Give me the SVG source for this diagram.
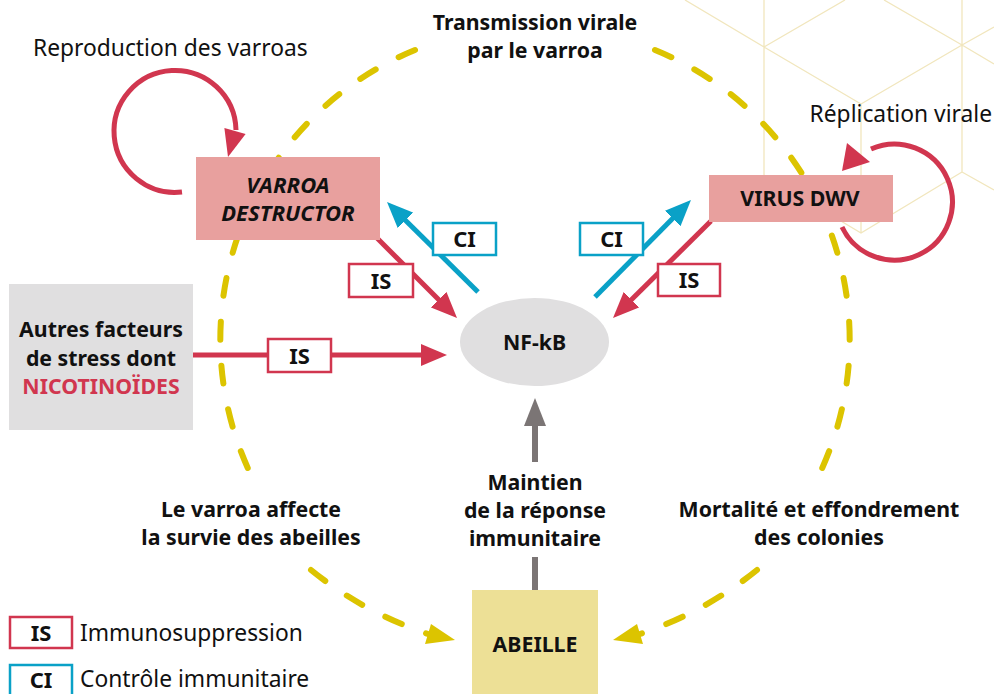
<svg xmlns="http://www.w3.org/2000/svg" width="994" height="694" viewBox="0 0 994 694">
<defs>
<style>
text { font-family: "Noto Sans", "Open Sans", "DejaVu Sans", sans-serif; fill: #111; }
.b { font-weight: 700; font-size: 21.3px; text-anchor: middle; }
.bi { font-weight: 700; font-style: italic; font-size: 22px; text-anchor: middle; }
.r { font-weight: 400; font-size: 22.8px; }
.tag { font-weight: 700; font-size: 22px; text-anchor: middle; }
.hex { stroke: #f1e6bd; stroke-width: 1.3; fill: none; }
.circ { fill: none; stroke: #dcc400; stroke-width: 6; stroke-linecap: round; stroke-dasharray: 18 26; }
.red { stroke: #d1364f; stroke-width: 5; fill: none; }
.blue { stroke: #0aa1c7; stroke-width: 5; fill: none; }
.gray { stroke: #7b7575; stroke-width: 6; fill: none; }
.tagR { fill: #fff; stroke: #d1364f; stroke-width: 2.5; }
.tagB { fill: #fff; stroke: #0aa1c7; stroke-width: 2.5; }
.pink { fill: #e8a09e; }
.grey { fill: #e0dfe0; }
</style>
<marker id="aR" markerUnits="userSpaceOnUse" markerWidth="26" markerHeight="22" viewBox="0 0 26 22" refX="8" refY="11" orient="auto"><path d="M0,0 L26,11 L0,22 z" fill="#d1364f"/></marker>
<marker id="aB" markerUnits="userSpaceOnUse" markerWidth="26" markerHeight="22" viewBox="0 0 26 22" refX="8" refY="11" orient="auto"><path d="M0,0 L26,11 L0,22 z" fill="#0aa1c7"/></marker>
<marker id="aG" markerUnits="userSpaceOnUse" markerWidth="28" markerHeight="22" viewBox="0 0 28 22" refX="10" refY="11" orient="auto"><path d="M0,0 L28,11 L0,22 z" fill="#7b7575"/></marker>
</defs>

<g id="background">
<path class="hex" d="M685,0 L764,47 M764,0 L764,175 M764,47 L845,0 M764,47 L861,104 M962,45 L861,104 M861,104 L861,233 M764,175 L861,233 L962,172 M962,0 L962,172 M962,45 L884,0 M962,45 L994,27 M962,45 L994,64 M962,172 L994,190"/>
</g>

<g id="cycle">
<path class="circ" d="M415,50 A313,313 0 0,0 252,477"/>
<path class="circ" d="M655,50 A313,313 0 0,1 818,477"/>
<path class="circ" d="M311,570 Q363,612 428,634"/>
<path class="circ" d="M757,570 Q705,612 640,634"/>
<polygon points="455,640 431,624 425,644" fill="#dcc400"/>
<polygon points="613,640 637,624 643,644" fill="#dcc400"/>
</g>

<g id="connectors">
<line class="red" x1="377" y1="238" x2="444.3" y2="305.3" marker-end="url(#aR)"/>
<line class="blue" x1="478" y1="292" x2="399.8" y2="214.7" marker-end="url(#aB)"/>
<line class="blue" x1="595" y1="297" x2="678.3" y2="212.8" marker-end="url(#aB)"/>
<line class="red" x1="711" y1="221" x2="625.8" y2="305.3" marker-end="url(#aR)"/>
<line class="red" x1="193" y1="355" x2="429" y2="355" marker-end="url(#aR)"/>
<line class="gray" x1="535" y1="462" x2="535" y2="416" marker-end="url(#aG)"/>
<line class="gray" x1="535" y1="557" x2="535" y2="592"/>
</g>

<g id="tags">
<rect class="tagR" x="349" y="264" width="64" height="33"/><text class="tag" x="381" y="288.5">IS</text>
<rect class="tagB" x="433" y="223" width="63" height="32"/><text class="tag" x="464.5" y="247">CI</text>
<rect class="tagB" x="580" y="223" width="63" height="32"/><text class="tag" x="611.5" y="247">CI</text>
<rect class="tagR" x="658" y="264" width="62" height="32"/><text class="tag" x="689" y="288">IS</text>
<rect class="tagR" x="268" y="339" width="63" height="33"/><text class="tag" x="299.5" y="363.5">IS</text>
</g>

<g id="node-varroa">
<rect class="pink" x="196" y="157" width="184" height="83"/>
<text class="bi" x="288" y="193">VARROA</text>
<text class="bi" x="288" y="221">DESTRUCTOR</text>
</g>

<g id="node-virus">
<rect class="pink" x="709" y="175" width="184" height="47"/>
<text class="b" x="800" y="206">VIRUS DWV</text>
</g>

<g id="node-autres">
<rect class="grey" x="9" y="284" width="184" height="146"/>
<text class="b" x="101" y="337">Autres facteurs</text>
<text class="b" x="101" y="366">de stress dont</text>
<text class="b" x="101" y="394" style="fill:#d1364f">NICOTINOÏDES</text>
</g>

<g id="node-nfkb">
<ellipse class="grey" cx="534.5" cy="342" rx="74.5" ry="44"/>
<text class="b" x="534.5" y="350">NF-kB</text>
</g>

<g id="node-abeille">
<rect x="472" y="590" width="126" height="110" fill="#ede096"/>
<text class="b" x="535" y="652">ABEILLE</text>
</g>

<g id="loops">
<path class="red" d="M182,192 A61,61 0 1,1 236,130"/>
<polygon points="228,157 224.4,128 245.6,134" fill="#d1364f"/>
<path class="red" d="M842,227 A58,58 0 1,0 871,149"/>
<polygon points="842,171 847,143 870,162" fill="#d1364f"/>
</g>

<g id="labels">
<text class="r" x="33" y="56">Reproduction des varroas</text>
<text class="r" x="992" y="122" text-anchor="end">Réplication virale</text>
<text class="b" x="535" y="30">Transmission virale</text>
<text class="b" x="535" y="58">par le varroa</text>
<text class="b" x="251" y="517">Le varroa affecte</text>
<text class="b" x="251" y="545">la survie des abeilles</text>
<text class="b" x="819" y="517">Mortalité et effondrement</text>
<text class="b" x="819" y="545">des colonies</text>
<text class="b" x="535" y="490">Maintien</text>
<text class="b" x="535" y="518">de la réponse</text>
<text class="b" x="535" y="546">immunitaire</text>
</g>

<g id="legend">
<rect class="tagR" x="10" y="617" width="62" height="31"/><text class="tag" x="41" y="640.5">IS</text>
<text class="r" x="80" y="641">Immunosuppression</text>
<rect class="tagB" x="10" y="665" width="62" height="40"/><text class="tag" x="41" y="688">CI</text>
<text class="r" x="80" y="687">Contrôle immunitaire</text>
</g>
</svg>
